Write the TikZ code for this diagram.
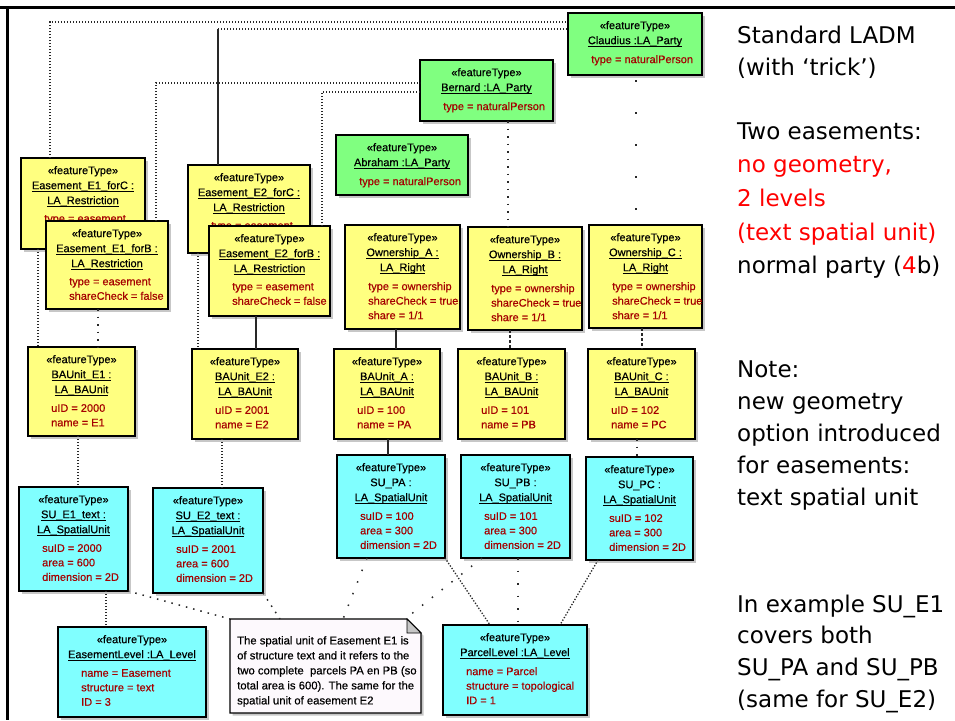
\documentclass[tikz,border=0pt]{standalone}
\usepackage{fontspec}
\setmainfont{Liberation Sans}[FakeBold=0.5]
\newfontfamily\sidefont{DejaVu Sans}
\usetikzlibrary{calc,shadows}

\definecolor{umlyellow}{RGB}{255,255,128}
\definecolor{umlgreen}{RGB}{128,255,128}
\definecolor{umlcyan}{RGB}{128,255,255}
\definecolor{attrred}{RGB}{165,0,0}
\definecolor{notefill}{RGB}{253,249,253}
\definecolor{linkcol}{RGB}{40,40,40}
\definecolor{sidered}{RGB}{255,0,0}

% underline drawn as a rule below the text
\newcommand{\uln}[1]{\setbox0=\hbox{#1}\rlap{\rule[-2.6pt]{\wd0}{0.9pt}}\box0}

\tikzset{
  objframe/.style={draw=black, line width=1.2pt, outer sep=0pt, inner sep=0pt,
    anchor=north west,
    drop shadow={shadow xshift=2.5pt, shadow yshift=-2.5pt, fill=black, opacity=0.22}},
  headtext/.style={anchor=north, align=center, inner sep=0pt,
    font=\fontsize{11}{15}\selectfont},
  attrtext/.style={anchor=north west, align=left, inner sep=0pt, text=attrred,
    font=\fontsize{11}{14.5}\selectfont},
  dense/.style={draw=linkcol, line width=1.3pt, dash pattern=on 1.3pt off 1.7pt},
  dots/.style={draw=linkcol, line width=1.5pt, dash pattern=on 1.5pt off 6pt},
  sparse/.style={draw=linkcol, line width=1.5pt, dash pattern=on 1.5pt off 11pt},
  dashedlink/.style={draw=linkcol, line width=1.3pt, dash pattern=on 3pt off 2pt},
  solidlink/.style={draw=linkcol, line width=1.5pt},
  sidetext/.style={anchor=base west, inner sep=0pt, font=\sidefont\fontsize{23}{23}\selectfont},
}

% object box: name, x1, y1, x2, y2, fill, header lines, attribute lines
\newcommand{\umlobj}[8]{%
  \node[objframe, fill=#6, minimum width={(#4-#2)*1pt}, minimum height={(#5-#3)*1pt}] (#1) at (#2,#3) {};
  \node[headtext] (#1-h) at ([yshift=-8pt]#1.north) {#7};
  \node[attrtext] (#1-a) at ($(#1-h.south -| #1.west)+(23,8)$) {#8};
}

\begin{document}
\begin{tikzpicture}[x=1pt,y=-1pt]
\useasboundingbox (0,0) rectangle (955,720);
\fill[white] (0,0) rectangle (955,720);

% frame
\draw[line width=3pt] (0,7.5) -- (955,7.5);
\draw[line width=3pt] (7.5,7.5) -- (7.5,720);

% parties
\umlobj{claud}{568}{13}{702}{75}{umlgreen}{«featureType»\\\uln{Claudius :LA\_Party}}{type = naturalPerson}
\umlobj{bern}{420}{60}{553}{121}{umlgreen}{«featureType»\\\uln{Bernard :LA\_Party}}{type = naturalPerson}
\umlobj{abra}{336}{135}{468}{195}{umlgreen}{«featureType»\\\uln{Abraham :LA\_Party}}{type = naturalPerson}

% restrictions
\umlobj{eonec}{21}{158}{145}{249}{umlyellow}{«featureType»\\\uln{Easement\_E1\_forC :}\\\uln{LA\_Restriction}}{type = easement}
\umlobj{eoneb}{46}{221}{168}{309}{umlyellow}{«featureType»\\\uln{Easement\_E1\_forB :}\\\uln{LA\_Restriction}}{type = easement\\shareCheck = false}
\umlobj{etwoc}{188}{165}{310}{253}{umlyellow}{«featureType»\\\uln{Easement\_E2\_forC :}\\\uln{LA\_Restriction}}{type = easement}
\umlobj{etwob}{209}{226}{330}{316}{umlyellow}{«featureType»\\\uln{Easement\_E2\_forB :}\\\uln{LA\_Restriction}}{type = easement\\shareCheck = false}

% rights
\umlobj{owna}{345}{225}{460}{329}{umlyellow}{«featureType»\\\uln{Ownership\_A :}\\\uln{LA\_Right}}{type = ownership\\shareCheck = true\\share = 1/1}
\umlobj{ownb}{468}{227}{582}{330}{umlyellow}{«featureType»\\\uln{Ownership\_B :}\\\uln{LA\_Right}}{type = ownership\\shareCheck = true\\share = 1/1}
\umlobj{ownc}{589}{225}{702}{328}{umlyellow}{«featureType»\\\uln{Ownership\_C :}\\\uln{LA\_Right}}{type = ownership\\shareCheck = true\\share = 1/1}

% basic administrative units
\umlobj{baone}{28}{347}{135}{436}{umlyellow}{«featureType»\\\uln{BAUnit\_E1 :}\\\uln{LA\_BAUnit}}{uID = 2000\\name = E1}
\umlobj{batwo}{192}{349}{298}{439}{umlyellow}{«featureType»\\\uln{BAUnit\_E2 :}\\\uln{LA\_BAUnit}}{uID = 2001\\name = E2}
\umlobj{baa}{334}{349}{440}{439}{umlyellow}{«featureType»\\\uln{BAUnit\_A :}\\\uln{LA\_BAUnit}}{uID = 100\\name = PA}
\umlobj{bab}{458}{349}{565}{439}{umlyellow}{«featureType»\\\uln{BAUnit\_B :}\\\uln{LA\_BAUnit}}{uID = 101\\name = PB}
\umlobj{bac}{588}{349}{695}{439}{umlyellow}{«featureType»\\\uln{BAUnit\_C :}\\\uln{LA\_BAUnit}}{uID = 102\\name = PC}

% spatial units
\umlobj{suone}{19}{487}{128}{591}{umlcyan}{«featureType»\\\uln{SU\_E1\_text :}\\\uln{LA\_SpatialUnit}}{suID = 2000\\area = 600\\dimension = 2D}
\umlobj{sutwo}{153}{488}{263}{593}{umlcyan}{«featureType»\\\uln{SU\_E2\_text :}\\\uln{LA\_SpatialUnit}}{suID = 2001\\area = 600\\dimension = 2D}
\umlobj{supa}{337}{455}{445}{558}{umlcyan}{«featureType»\\SU\_PA :\\\uln{LA\_SpatialUnit}}{suID = 100\\area = 300\\dimension = 2D}
\umlobj{supb}{461}{455}{570}{558}{umlcyan}{«featureType»\\SU\_PB :\\\uln{LA\_SpatialUnit}}{suID = 101\\area = 300\\dimension = 2D}
\umlobj{supc}{586}{457}{693}{560}{umlcyan}{«featureType»\\SU\_PC :\\\uln{LA\_SpatialUnit}}{suID = 102\\area = 300\\dimension = 2D}

% levels
\umlobj{elev}{58}{627}{206}{717}{umlcyan}{«featureType»\\\uln{EasementLevel :LA\_Level}}{name = Easement\\structure = text\\ID = 3}
\umlobj{plev}{443}{625}{587}{715}{umlcyan}{«featureType»\\\uln{ParcelLevel :LA\_Level}}{name = Parcel\\structure = topological\\ID = 1}

% note with folded corner
\node[draw=none, inner sep=0pt, outer sep=0pt, anchor=north west, minimum width=191pt, minimum height=94pt] (note) at (230,619) {};
\path[draw=black, line width=1.1pt, fill=notefill,
  drop shadow={shadow xshift=2.5pt, shadow yshift=-2.5pt, fill=black, opacity=0.22}]
  (note.north west) -- ($(note.north east)+(-14,0)$) -- ($(note.north east)+(0,14)$)
  -- (note.south east) -- (note.south west) -- cycle;
\filldraw[draw=black, line width=0.8pt, fill=gray!45]
  ($(note.north east)+(-14,0)$) -- ($(note.north east)+(-14,14)$) -- ($(note.north east)+(0,14)$) -- cycle;
\node[anchor=north west, align=left, inner sep=0pt, font=\fontsize{11.3}{15}\selectfont] (note-t)
  at ($(note.north west)+(7,17)$)
  {The spatial unit of Easement E1 is\\of structure text and it refers to the\\two complete\ \ parcels PA en PB (so\\total area is 600). The same for the\\spatial unit of easement E2};

% party links
\draw[dense] (eonec.north -| 50,0) |- (claud.west |- 0,22);
\coordinate (kink) at (218,29);
\draw[solidlink] (etwoc.north -| kink) -- (kink);
\draw[dense] (kink) -- (claud.west |- kink);
\draw[dense] (eoneb.north -| 156,0) |- (bern.west |- 0,83);
\draw[dense] (etwob.north -| 322,0) |- (bern.west |- 0,92);
\draw[draw=linkcol, line width=1.6pt, dash pattern=on 1.6pt off 30.4pt, dash phase=27pt]
  (claud.south -| 636,0) -- (ownc.north -| 636,0);
\draw[dots] (bern.south -| 508,0) -- (ownb.north -| 508,0);

% rights and restrictions to units
\draw[dense] (eonec.south -| 38,0) -- (baone.north -| 38,0);
\draw[dots] (eoneb.south -| 98,0) -- (baone.north -| 98,0);
\draw[dense] (etwoc.south -| 198,0) -- (batwo.north -| 198,0);
\draw[solidlink] (etwob.south -| 256,0) -- (batwo.north -| 256,0);
\draw[solidlink] (owna.south -| 396,0) -- (baa.north -| 396,0);
\draw[dashedlink] (ownb.south -| 510,0) -- (bab.north -| 510,0);
\draw[dashedlink] (ownc.south -| 642,0) -- (bac.north -| 642,0);

% units to spatial units
\draw[dense] (baone.south -| 78,0) -- (suone.north -| 78,0);
\draw[dense] (batwo.south -| 222,0) -- (sutwo.north -| 222,0);
\draw[solidlink] (baa.south -| 388,0) -- (supa.north -| 388,0);
\draw[dots] (bac.south -| 637,0) -- (supc.north -| 637,0);

% spatial units to levels and note
\draw[dense] (suone.south -| 106,0) -- (elev.north -| 106,0);
\draw[dots] (suone.south east) -- (note.north west);
\draw[dots] (sutwo.south east) -- (note.north -| 280,0);
\draw[sparse] (supa.south -| 367,0) -- (note.north -| 343,0);
\draw[sparse] (supb.south -| 482,0) -- (note.north -| 405,0);
\draw[dense] (supa.south east) -- (plev.north -| 490,0);
\draw[sparse] (supb.south -| 518,0) -- (plev.north -| 518,0);
\draw[dense] (supc.south -| 598,0) -- (plev.north -| 560,0);

% side remarks
\node[sidetext] (r1) at (737,43) {Standard LADM};
\node[sidetext] (r2) at (737,75) {(with ‘trick’)};
\node[sidetext] (r3) at (737,139) {Two easements:};
\node[sidetext, text=sidered] (r4) at (737,172) {no geometry,};
\node[sidetext, text=sidered] (r5) at (737,206) {2 levels};
\node[sidetext, text=sidered] (r6) at (737,240) {(text spatial unit)};
\node[sidetext] (r7) at (737,273) {normal party (\textcolor{sidered}{4}b)};
\node[sidetext] (r8) at (737,377) {Note:};
\node[sidetext] (r9) at (737,409) {new geometry};
\node[sidetext] (r10) at (737,441) {option introduced};
\node[sidetext] (r11) at (737,473) {for easements:};
\node[sidetext] (r12) at (737,505) {text spatial unit};
\node[sidetext] (r13) at (737,612) {In example SU\_E1};
\node[sidetext] (r14) at (737,643) {covers both};
\node[sidetext] (r15) at (737,675) {SU\_PA and SU\_PB};
\node[sidetext] (r16) at (737,707) {(same for SU\_E2)};
\end{tikzpicture}
\end{document}
